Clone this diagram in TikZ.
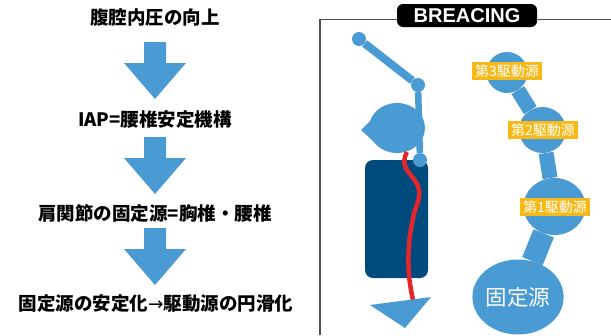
\documentclass[tikz,border=0pt]{standalone}
\usepackage{fontspec}
\usetikzlibrary{shapes.geometric}
\newfontfamily\jpfont{Noto Sans CJK JP}
\newfontfamily\titlefont{Liberation Sans}
\newfontfamily\arrowfont{DejaVu Sans}
\definecolor{bodyblue}{RGB}{74,155,212}
\definecolor{trunkblue}{RGB}{0,75,126}
\definecolor{spinered}{RGB}{227,38,43}
\definecolor{tagorange}{RGB}{246,185,24}
\definecolor{framegray}{RGB}{80,80,80}

\begin{document}
\begin{tikzpicture}[x=1pt,y=-1pt]
	\useasboundingbox (0,0) rectangle (611,335);
	\tikzstyle{every node}+=[inner sep=0pt]
	\tikzstyle{flowtext}=[font=\jpfont\bfseries\fontsize{18.5}{20}\selectfont]
	\tikzstyle{joint}=[circle, fill=bodyblue, minimum size=14]
	\tikzstyle{source}=[ellipse, fill=bodyblue]
	\tikzstyle{drivetag}=[fill=tagorange, text=white, inner xsep=3, inner ysep=2.5, font=\jpfont\fontsize{14}{15}\selectfont]
	% flow on the left
	\node [flowtext] (iap0) at (155,17) {腹腔内圧の向上};
	\node [flowtext] (iap1) at (155,120) {IAP=腰椎安定機構};
	\node [flowtext] (iap2) at (155,213) {肩関節の固定源=胸椎・腰椎};
	\node [flowtext] (iap3) at (156,304) {固定源の安定化{\arrowfont\mdseries →}駆動源の円滑化};
	\foreach \t in {42,137,228}
		\fill [bodyblue] (144,\t) -- (166,\t) -- (166,\t+21) -- (186,\t+21) -- (155,\t+57) -- (124,\t+21) -- (144,\t+21) -- cycle;
	% panel frame and title
	\draw [framegray, line width=1.3] (320,335) -- (320,19.5) -- (611,19.5);
	\node [fill=black, rounded corners=6, minimum width=140, minimum height=23, text=white, font=\titlefont\bfseries\fontsize{20}{22}\selectfont] (title) at (467,15.5) {BREACING};
	% figure: trunk, spine, head, arm, foot
	\fill [trunkblue, rounded corners=8] (365,160) rectangle (428,278);
	\node [ellipse, fill=bodyblue, minimum width=56, minimum height=50] (head) at (397,128) {};
	\fill [bodyblue] (361,130) -- (373,118) -- (373,141) -- cycle;
	\draw [spinered, line width=4.5] plot [smooth, tension=0.7] coordinates {(407,152) (405,166) (419,190) (413,218) (409,245) (409,275) (413,300)};
	\node [joint] (hand) at (359,39) {};
	\node [joint] (elbow) at (418,85) {};
	\node [joint] (shoulder) at (420,160) {};
	\draw [bodyblue, line width=8] (hand) -- (elbow);
	\draw [bodyblue, line width=6.5] (elbow) -- (shoulder);
	\fill [bodyblue] (370,305) -- (431,297) -- (405,328) -- cycle;
	% chain of sources on the right
	\node [source, minimum width=41, minimum height=41] (drive3) at (507,72.5) {};
	\node [source, minimum width=47, minimum height=46] (drive2) at (542.5,130) {};
	\node [source, minimum width=62, minimum height=57] (drive1) at (554.5,206.5) {};
	\node [source, minimum width=82, minimum height=75, text=white, font=\jpfont\fontsize{21.5}{23}\selectfont] (base) at (518,297) {固定源};
	\draw [bodyblue, line width=15] (drive3) -- (drive2);
	\draw [bodyblue, line width=15] (drive2) -- (drive1);
	\draw [bodyblue, line width=22] (drive1) -- (base);
	\node [drivetag] (tag3) at (507,71) {第3駆動源};
	\node [drivetag] (tag2) at (543,130) {第2駆動源};
	\node [drivetag] (tag1) at (555,207) {第1駆動源};
\end{tikzpicture}
\end{document}
